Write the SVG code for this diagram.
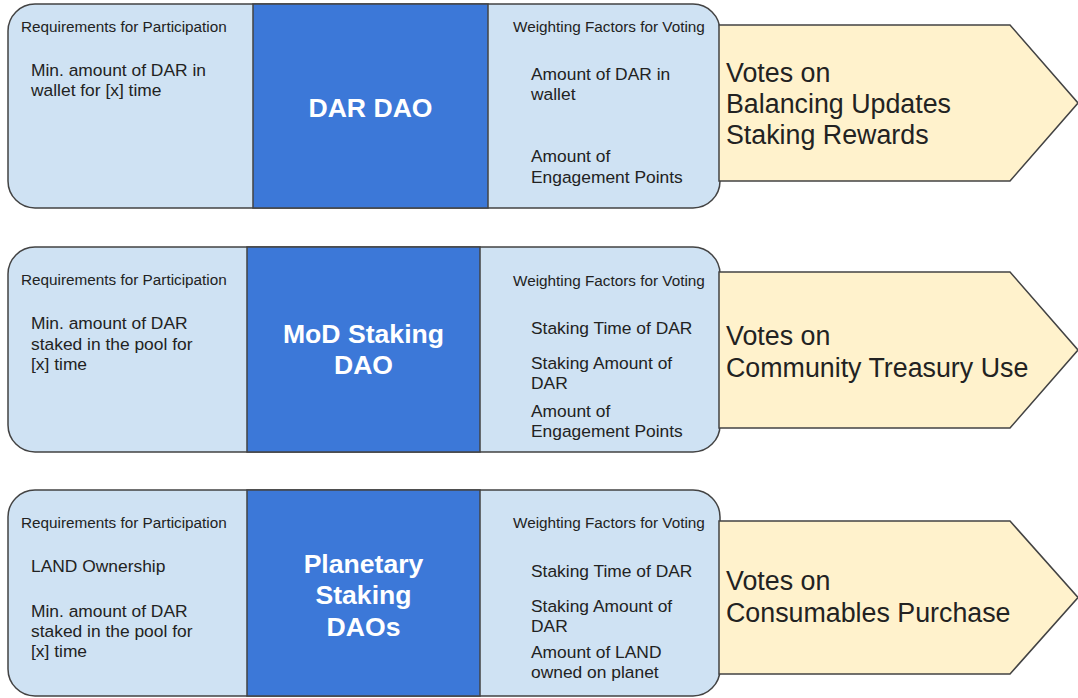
<svg xmlns="http://www.w3.org/2000/svg" width="1078" height="698" viewBox="0 0 1078 698">
  <style>
    .panel { fill: #cfe2f3; stroke: #434343; stroke-width: 1.5; }
    .core { fill: #3c78d8; stroke: #434343; stroke-width: 1.5; }
    .outcome { fill: #fff2cc; stroke: #434343; stroke-width: 1.5; stroke-linejoin: miter; }
    text { font-family: "Liberation Sans", Arial, sans-serif; fill: #222222; }
    .head { font-size: 15.3px; }
    .item { font-size: 17.4px; }
    .title { font-size: 26.6px; font-weight: bold; fill: #ffffff; text-anchor: middle; }
    .vote { font-size: 26.8px; }
  </style>
  <rect width="1078" height="698" fill="#ffffff"/>

  <!-- Row 1: DAR DAO -->
  <g id="dar-dao">
    <rect class="panel" x="8" y="4" width="712" height="204" rx="27" ry="27"/>
    <rect class="core" x="253" y="4" width="235" height="204"/>
    <text class="head" x="21" y="32">Requirements for Participation</text>
    <text class="item" x="31" y="76">Min. amount of DAR in</text>
    <text class="item" x="31" y="96">wallet for [x] time</text>
    <text class="title" x="370.5" y="117">DAR DAO</text>
    <text class="head" x="513" y="32">Weighting Factors for Voting</text>
    <text class="item" x="531" y="80">Amount of DAR in</text>
    <text class="item" x="531" y="100">wallet</text>
    <text class="item" x="531" y="162">Amount of</text>
    <text class="item" x="531" y="183">Engagement Points</text>
  </g>
  <g id="dar-dao-votes">
    <polygon class="outcome" points="719,25 1010,25 1078,103 1010,181 719,181"/>
    <text class="vote" x="726" y="82">Votes on</text>
    <text class="vote" x="726" y="113">Balancing Updates</text>
    <text class="vote" x="726" y="144">Staking Rewards</text>
  </g>

  <!-- Row 2: MoD Staking DAO -->
  <g id="mod-staking-dao">
    <rect class="panel" x="8" y="247" width="712" height="205" rx="27" ry="27"/>
    <rect class="core" x="247" y="247" width="233" height="205"/>
    <text class="head" x="21" y="285">Requirements for Participation</text>
    <text class="item" x="31" y="329">Min. amount of DAR</text>
    <text class="item" x="31" y="350">staked in the pool for</text>
    <text class="item" x="31" y="370">[x] time</text>
    <text class="title" x="363.5" y="343">MoD Staking</text>
    <text class="title" x="363.5" y="374">DAO</text>
    <text class="head" x="513" y="286">Weighting Factors for Voting</text>
    <text class="item" x="531" y="334">Staking Time of DAR</text>
    <text class="item" x="531" y="369">Staking Amount of</text>
    <text class="item" x="531" y="389">DAR</text>
    <text class="item" x="531" y="417">Amount of</text>
    <text class="item" x="531" y="437">Engagement Points</text>
  </g>
  <g id="mod-staking-votes">
    <polygon class="outcome" points="719,272 1010,272 1078,350 1010,428 719,428"/>
    <text class="vote" x="726" y="345">Votes on</text>
    <text class="vote" x="726" y="377">Community Treasury Use</text>
  </g>

  <!-- Row 3: Planetary Staking DAOs -->
  <g id="planetary-staking-daos">
    <rect class="panel" x="8" y="490" width="712" height="206" rx="27" ry="27"/>
    <rect class="core" x="247" y="490" width="233" height="206"/>
    <text class="head" x="21" y="528">Requirements for Participation</text>
    <text class="item" x="31" y="572">LAND Ownership</text>
    <text class="item" x="31" y="617">Min. amount of DAR</text>
    <text class="item" x="31" y="637">staked in the pool for</text>
    <text class="item" x="31" y="657">[x] time</text>
    <text class="title" x="363.5" y="573">Planetary</text>
    <text class="title" x="363.5" y="604">Staking</text>
    <text class="title" x="363.5" y="636">DAOs</text>
    <text class="head" x="513" y="528">Weighting Factors for Voting</text>
    <text class="item" x="531" y="577">Staking Time of DAR</text>
    <text class="item" x="531" y="612">Staking Amount of</text>
    <text class="item" x="531" y="632">DAR</text>
    <text class="item" x="531" y="658">Amount of LAND</text>
    <text class="item" x="531" y="678">owned on planet</text>
  </g>
  <g id="planetary-staking-votes">
    <polygon class="outcome" points="719,521 1010,521 1078,597.5 1010,674 719,674"/>
    <text class="vote" x="726" y="590">Votes on</text>
    <text class="vote" x="726" y="622">Consumables Purchase</text>
  </g>

  <!-- the rows stand alone: no connectors between them -->
  <g id="connectors"/>
</svg>
